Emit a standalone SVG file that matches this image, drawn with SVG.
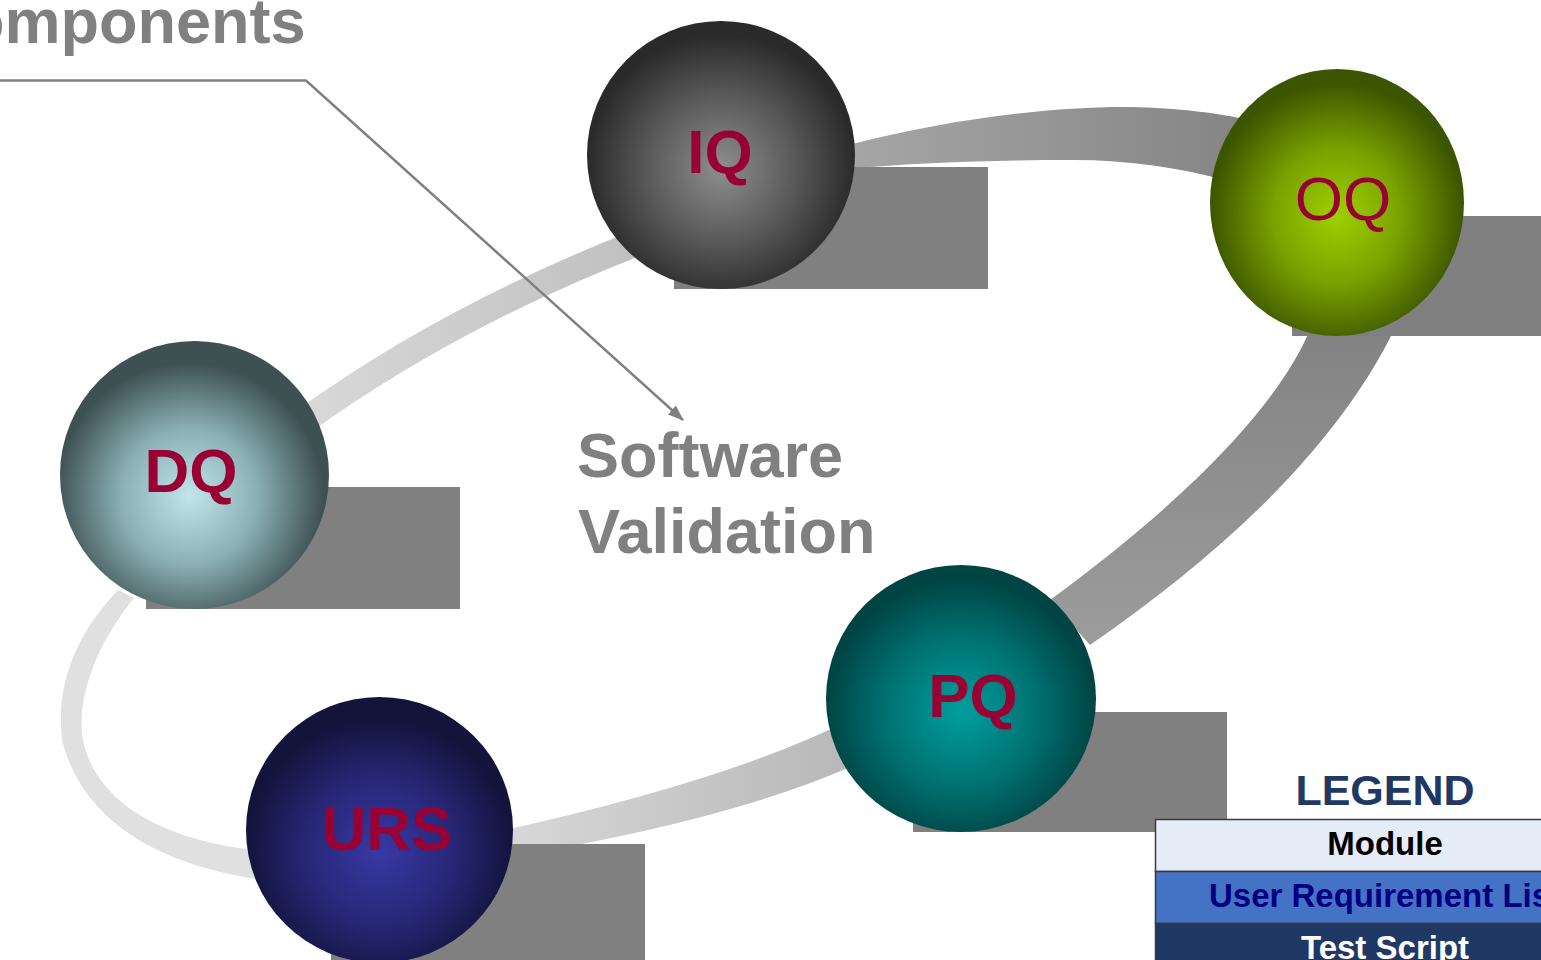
<svg xmlns="http://www.w3.org/2000/svg" width="1541" height="960" viewBox="0 0 1541 960">
<defs>
<style>
.lbl{font-family:"Liberation Sans",Arial,sans-serif;font-size:62px;fill:#990033;text-anchor:middle}
.b{font-weight:bold}
.gray{font-family:"Liberation Sans",Arial,sans-serif;font-size:63px;font-weight:bold;fill:#808080}
.shadow{fill:#808080}
.band{fill:none;stroke-linecap:butt}
.leg{font-family:"Liberation Sans",Arial,sans-serif;font-weight:bold;text-anchor:middle;font-size:33px}
.cell{stroke:#3a3a3a;stroke-width:1.5}
</style>
<radialGradient id="gIQ" cx="0.5" cy="0.55" r="0.5"><stop offset="0" stop-color="#8e8e8e"/><stop offset="0.55" stop-color="#595959"/><stop offset="1" stop-color="#2a2a2a"/></radialGradient>
<radialGradient id="gOQ" cx="0.5" cy="0.55" r="0.5"><stop offset="0" stop-color="#9fd000"/><stop offset="0.5" stop-color="#7aa200"/><stop offset="1" stop-color="#3c5500"/></radialGradient>
<radialGradient id="gDQ" cx="0.48" cy="0.58" r="0.5"><stop offset="0" stop-color="#c0e6ec"/><stop offset="0.5" stop-color="#8bb1b6"/><stop offset="1" stop-color="#3d5052"/></radialGradient>
<radialGradient id="gPQ" cx="0.5" cy="0.55" r="0.5"><stop offset="0" stop-color="#009e9e"/><stop offset="0.55" stop-color="#007272"/><stop offset="1" stop-color="#004444"/></radialGradient>
<radialGradient id="gURS" cx="0.5" cy="0.58" r="0.5"><stop offset="0" stop-color="#3838a4"/><stop offset="0.55" stop-color="#272777"/><stop offset="1" stop-color="#13133c"/></radialGradient>
<linearGradient id="b1" gradientUnits="userSpaceOnUse" x1="850" y1="0" x2="1240" y2="0"><stop offset="0" stop-color="#a6a6a6"/><stop offset="1" stop-color="#858585"/></linearGradient>
<linearGradient id="b2" gradientUnits="userSpaceOnUse" x1="0" y1="335" x2="0" y2="640"><stop offset="0" stop-color="#838383"/><stop offset="1" stop-color="#9c9c9c"/></linearGradient>
<linearGradient id="b3" gradientUnits="userSpaceOnUse" x1="845" y1="0" x2="505" y2="0"><stop offset="0" stop-color="#b8b8b8"/><stop offset="1" stop-color="#d8d8d8"/></linearGradient>
<linearGradient id="b5" gradientUnits="userSpaceOnUse" x1="305" y1="0" x2="640" y2="0"><stop offset="0" stop-color="#d8d8d8"/><stop offset="1" stop-color="#c0c0c0"/></linearGradient>
<marker id="arr" markerWidth="16" markerHeight="12" refX="15" refY="6" orient="auto" markerUnits="userSpaceOnUse" viewBox="0 0 16 12"><path d="M0,0 L16,6 L0,12 Z" fill="#808080"/></marker>
</defs>
<rect width="1541" height="960" fill="#ffffff"/>
<g id="connectors">
<path d="M 845 146 C 950 118, 1060 106, 1130 107 C 1180 108, 1215 113, 1245 119 L 1225 180 C 1180 168, 1130 160, 1073 160 C 1000 160, 920 162, 845 169 Z" fill="url(#b1)"/>
<path d="M 1310 330 C 1280 400, 1200 490, 1050 600 L 1090 645 C 1235 545, 1340 440, 1394 330 Z" fill="url(#b2)"/>
<path d="M 835 727 Q 720 782 505 830 L 505 858 Q 730 820 850 767 Z" fill="url(#b3)"/>
<path d="M 255 879 C 140 860, 80 810, 62 740 C 55 680, 80 630, 118 590 L 134 598 C 100 640, 78 690, 82 735 C 92 800, 160 840, 255 850 Z" fill="#e0e0e0"/>
<path class="band" d="M 300 424 Q 450 315 645 240" stroke="url(#b5)" stroke-width="26"/>
<path d="M 0 80.5 L 306 80.5 L 683 420" fill="none" stroke="#808080" stroke-width="2.5" marker-end="url(#arr)"/>
</g>
<g id="title">
<text class="gray" x="-34" y="43">omponents</text>
<text class="gray" x="577" y="477">Software</text>
<text class="gray" x="578" y="553">Validation</text>
</g>
<g id="IQ">
<rect class="shadow" x="674" y="167" width="314" height="122"/>
<ellipse cx="721" cy="155" rx="134" ry="134" fill="url(#gIQ)"/>
<text class="lbl b" x="720" y="173">IQ</text>
</g>
<g id="OQ">
<rect class="shadow" x="1292" y="216" width="314" height="120"/>
<ellipse cx="1337" cy="202.5" rx="127" ry="133.5" fill="url(#gOQ)"/>
<text class="lbl" x="1343" y="220">OQ</text>
</g>
<g id="DQ">
<rect class="shadow" x="146" y="487" width="314" height="122"/>
<ellipse cx="194.5" cy="475" rx="134.5" ry="134" fill="url(#gDQ)"/>
<text class="lbl b" x="191" y="492">DQ</text>
</g>
<g id="PQ">
<rect class="shadow" x="913" y="712" width="314" height="120"/>
<ellipse cx="961" cy="698.5" rx="135" ry="133.5" fill="url(#gPQ)"/>
<text class="lbl b" x="973" y="717">PQ</text>
</g>
<g id="URS">
<rect class="shadow" x="331" y="844" width="314" height="122"/>
<ellipse cx="379.5" cy="830" rx="133.5" ry="133" fill="url(#gURS)"/>
<text class="lbl b" x="387" y="850">URS</text>
</g>
<g id="legend">
<text class="leg" x="1385" y="805" style="font-size:43px" fill="#1f3864">LEGEND</text>
<rect class="cell" x="1155.5" y="819.5" width="420" height="52" fill="#e6ecf7"/>
<rect class="cell" x="1155.5" y="871.5" width="420" height="52" fill="#4472c4"/>
<rect class="cell" x="1155.5" y="923.5" width="420" height="52" fill="#203864"/>
<text class="leg" x="1385" y="855" fill="#000000">Module</text>
<text class="leg" x="1385" y="907" fill="#000080">User Requirement List</text>
<text class="leg" x="1385" y="959" fill="#ffffff">Test Script</text>
</g>
</svg>
